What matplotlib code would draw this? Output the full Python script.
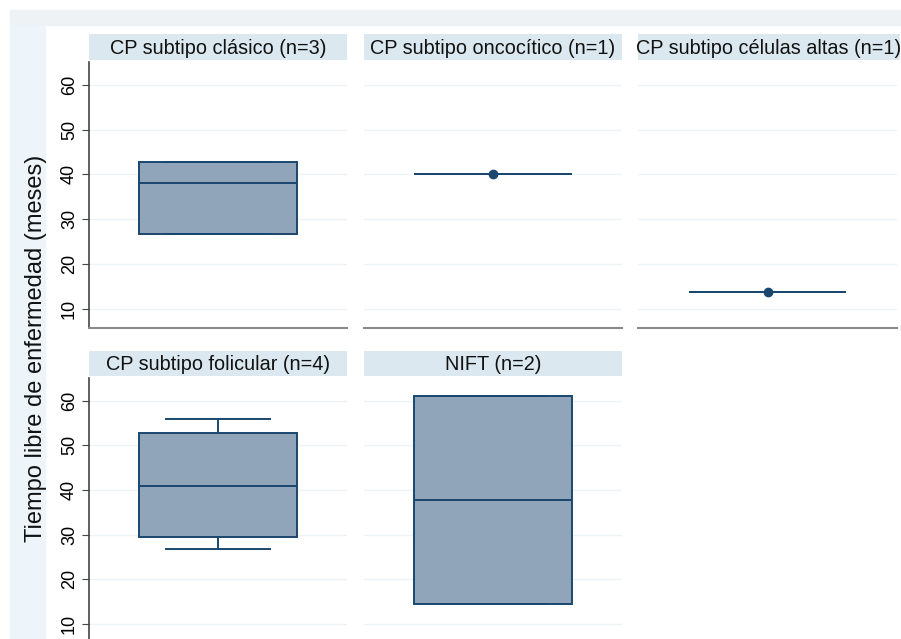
import matplotlib
matplotlib.use("Agg")
import matplotlib.pyplot as plt
from matplotlib.patches import Rectangle

plt.rcParams['font.family'] = ['Liberation Sans', 'DejaVu Sans']

# panel titles
groups = ["CP subtipo clásico (n=3)", "CP subtipo oncocítico (n=1)",
          "CP subtipo células altas (n=1)", "CP subtipo folicular (n=4)",
          "NIFT (n=2)"]

# box statistics (meses)
med = [38.0, 40.2, 13.8, 40.8, 37.7]
q1 = [26.6, 40.2, 13.8, 29.5, 14.4]
q3 = [42.7, 40.2, 13.8, 52.7, 61.1]
whislo = [26.6, 40.2, 13.8, 26.8, 14.4]
whishi = [42.7, 40.2, 13.8, 56.0, 61.1]
points = [[], [40.2], [13.8], [], []]

yticks = [10, 20, 30, 40, 50, 60]

W, H = 901, 639
navy = "#1a476f"
fill = "#90a5ba"
strip = "#dbe8ef"

def px(x0, y0, x1, y1):
    # pixel box -> figure fraction rect
    return [x0 / W, 1 - y1 / H, (x1 - x0) / W, (y1 - y0) / H]

fig = plt.figure(figsize=(W / 100, H / 100), dpi=100)
fig.patch.set_facecolor("white")

# stata-like graph region bands
fig.add_artist(Rectangle((10 / W, 1 - 25 / H), (W - 10) / W, 15 / H,
                         transform=fig.transFigure, color="#eef2f4", zorder=0))
fig.add_artist(Rectangle((10 / W, 0), 35 / W, 1 - 25 / H,
                         transform=fig.transFigure, color="#eef5fa", zorder=0))

cols = [(89, 347), (364, 622), (638, 897)]
rows = [(62, 328, 34, 60), (378, 643, 351, 376)]

for i, name in enumerate(groups):
    r, c = divmod(i, 3)
    x0, x1 = cols[c]
    y0, y1, hy0, hy1 = rows[r]
    ax = fig.add_axes(px(x0, y0, x1, y1))

    # header strip
    hx1 = 900 if c == 2 else x1
    hax = fig.add_axes(px(x0, hy0, hx1, hy1))
    hax.set_facecolor(strip)
    hax.set_xticks([])
    hax.set_yticks([])
    for s in hax.spines.values():
        s.set_visible(False)
    hax.text(0.5, 0.45, name, ha="center", va="center", fontsize=14.3,
             color="#111111", transform=hax.transAxes)

    stats = [dict(med=med[i], q1=q1[i], q3=q3[i], whislo=whislo[i],
                  whishi=whishi[i], fliers=points[i])]
    ax.bxp(stats, positions=[0.5], widths=0.61, capwidths=0.40,
           patch_artist=True, showfliers=True,
           boxprops=dict(facecolor=fill, edgecolor=navy, linewidth=1.4),
           medianprops=dict(color=navy, linewidth=1.4),
           whiskerprops=dict(color=navy, linewidth=1.4),
           capprops=dict(color=navy, linewidth=1.4),
           flierprops=dict(marker="o", markersize=6, markerfacecolor=navy,
                           markeredgecolor=navy))
    ax.set_xlim(0, 1)
    ax.set_ylim(5.7, 65.1)
    ax.set_xticks([])
    ax.set_yticks(yticks)
    ax.grid(axis="y", color="#eef4f5", linewidth=1)
    ax.set_axisbelow(True)
    for s in ["top", "right"]:
        ax.spines[s].set_visible(False)
    ax.spines["bottom"].set_color("#8a8a8a")
    ax.spines["bottom"].set_linewidth(1.5)
    if c == 0:
        ax.spines["left"].set_color("#444444")
        ax.spines["left"].set_linewidth(1.2)
        ax.tick_params(axis="y", length=5, color="#444444", labelsize=13,
                       labelrotation=90, pad=3)
        for lab in ax.get_yticklabels():
            lab.set_va("center")
    else:
        ax.spines["left"].set_visible(False)
        ax.tick_params(axis="y", length=0, labelleft=False)

fig.text(36 / W, 1 - 348 / H, "Tiempo libre de enfermedad (meses)",
         rotation=90, ha="center", va="center", fontsize=17, color="#111111")

fig.savefig("out.png", dpi=100)
